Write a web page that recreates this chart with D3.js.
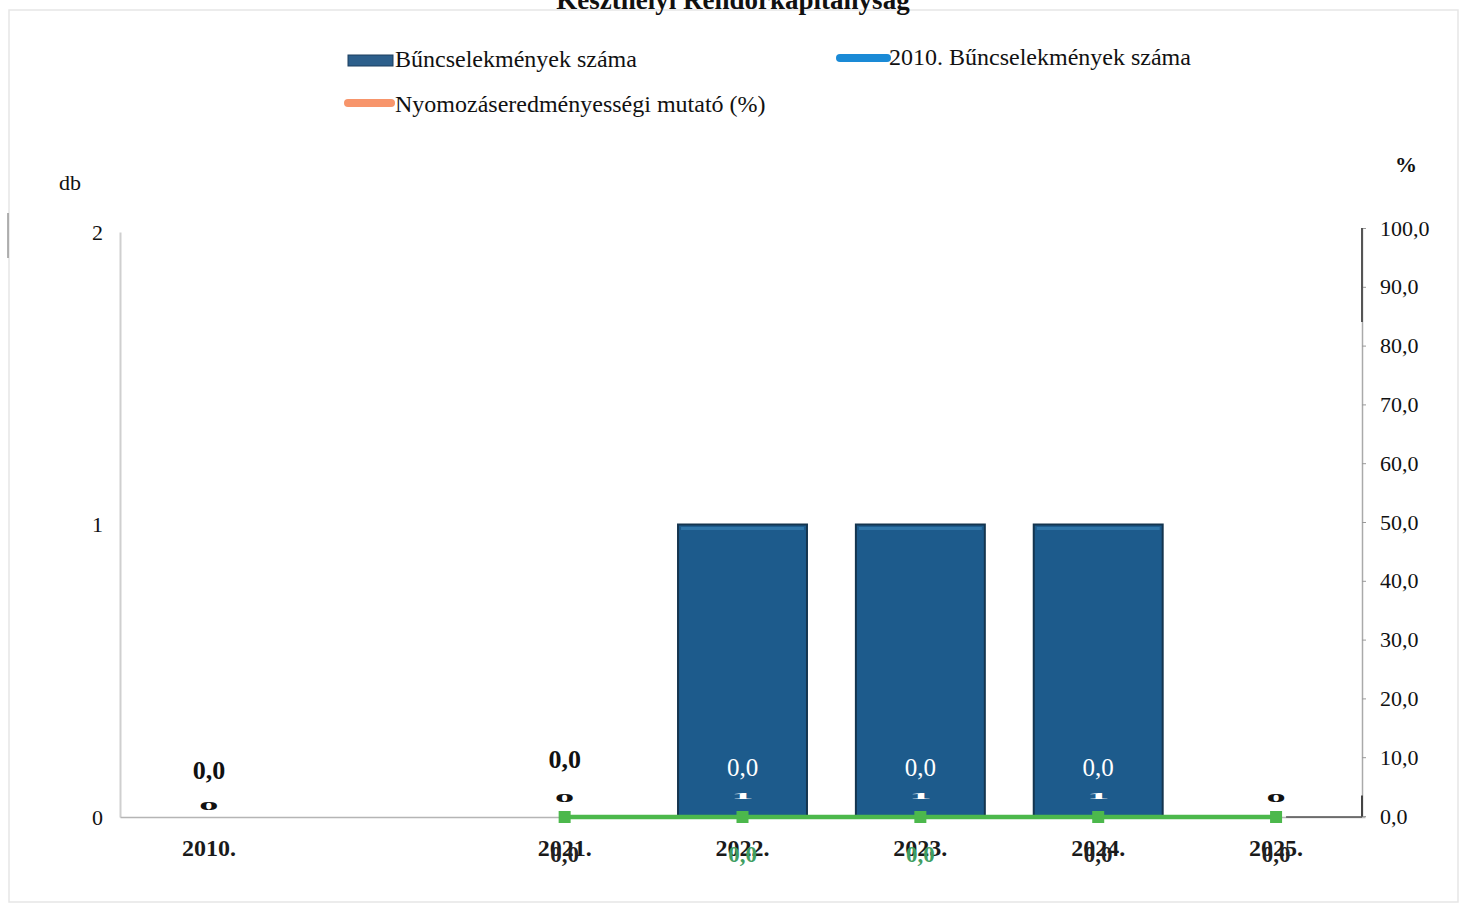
<!DOCTYPE html>
<html>
<head>
<meta charset="utf-8">
<script src="https://cdn.jsdelivr.net/npm/d3@7"></script>
<style>
  html, body { margin: 0; padding: 0; background: #fff; }
  svg { display: block; }
  text { font-family: "Liberation Serif", "Times New Roman", serif; }
</style>
</head>
<body>
<svg id="chart" width="1466" height="905"></svg>
<script>
// ---- data ----
const title = "Keszthelyi Rendőrkapitányság";
const categories = ["2010.", "", "2021.", "2022.", "2023.", "2024.", "2025."];
const barValues = [0, null, 0, 1, 1, 1, 0];                 // Bűncselekmények száma (db)
const percentValues = [0, null, 0, 0, 0, 0, null];          // Nyomozáseredményességi mutató (%)
const trendValues = [null, null, 0, 0, 0, 0, 0];            // green line (db)
const ref2010Values = [null, null, 0, null, null, 0, 0];    // 2010. Bűncselekmények száma (db)
const leftTicks = [0, 1, 2];
const rightTicks = [0, 10, 20, 30, 40, 50, 60, 70, 80, 90, 100];
const legendItems = ["Bűncselekmények száma", "2010. Bűncselekmények száma", "Nyomozáseredményességi mutató (%)"];
const fmt = v => d3.format(".1f")(v).replace(".", ",");

// ---- setup ----
const svg = d3.select("#chart");
const x = d3.scaleBand().domain(categories.map((c, i) => i)).range([120, 1365]).paddingInner(0).paddingOuter(0);
const cx = i => x(i) + x.bandwidth() / 2;
const barW = x.bandwidth() * 0.725;
const yL = d3.scaleLinear().domain([0, 2]).range([817, 232]);
const yR = d3.scaleLinear().domain([0, 100]).range([816, 228]);

// frame
svg.append("rect").attr("x", 9).attr("y", 10).attr("width", 1449).attr("height", 892)
  .attr("fill", "none").attr("stroke", "#e6e6e6").attr("stroke-width", 1.5);
svg.append("line").attr("x1", 8).attr("x2", 8).attr("y1", 213).attr("y2", 258)
  .attr("stroke", "#999").attr("stroke-width", 1.5);

// title (cut off at top in the reference)
svg.append("text").attr("x", 733).attr("y", 9).attr("text-anchor", "middle")
  .attr("font-size", 27).attr("font-weight", "bold").attr("fill", "#111").text(title);

// legend
const lg = svg.append("g");
lg.append("rect").attr("x", 348).attr("y", 55).attr("width", 45).attr("height", 11)
  .attr("fill", "#2d5f8b").attr("stroke", "#1c3f5f").attr("stroke-width", 1);
lg.append("text").attr("x", 395).attr("y", 67).attr("font-size", 24).attr("fill", "#111").text(legendItems[0]);
lg.append("line").attr("x1", 840).attr("x2", 887).attr("y1", 58).attr("y2", 58)
  .attr("stroke", "#1a8ad6").attr("stroke-width", 8).attr("stroke-linecap", "round");
lg.append("text").attr("x", 889).attr("y", 65).attr("font-size", 24).attr("fill", "#111").text(legendItems[1]);
lg.append("line").attr("x1", 348).attr("x2", 391).attr("y1", 103).attr("y2", 103)
  .attr("stroke", "#f7956b").attr("stroke-width", 8).attr("stroke-linecap", "round");
lg.append("text").attr("x", 395).attr("y", 112).attr("font-size", 24).attr("fill", "#111").text(legendItems[2]);

// axis titles
svg.append("text").attr("x", 70).attr("y", 190).attr("text-anchor", "middle").attr("font-size", 22).attr("fill", "#111").text("db");
svg.append("text").attr("x", 1406).attr("y", 172).attr("text-anchor", "middle").attr("font-size", 22).attr("font-weight", "bold").attr("fill", "#111").text("%");

// left axis
const leftAxis = svg.append("g").attr("transform", "translate(120,0)")
  .call(d3.axisLeft(yL).tickValues(leftTicks).tickSize(0).tickPadding(17).tickFormat(d3.format("d")));
leftAxis.select(".domain").attr("stroke", "#cfcfcf").attr("stroke-width", 2);
leftAxis.selectAll("text").attr("font-size", 22).attr("fill", "#111")
  .attr("font-family", "Liberation Serif, serif");

// right axis
const rightAxis = svg.append("g").attr("transform", "translate(1362,0)")
  .call(d3.axisRight(yR).tickValues(rightTicks).tickSize(4).tickSizeOuter(0).tickPadding(14).tickFormat(fmt));
rightAxis.select(".domain").attr("stroke", "#aaa").attr("stroke-width", 1.5);
rightAxis.selectAll(".tick line").attr("stroke", "#999");
rightAxis.selectAll("text").attr("font-size", 22).attr("fill", "#111")
  .attr("font-family", "Liberation Serif, serif");
svg.append("line").attr("x1", 1362).attr("x2", 1362).attr("y1", yR(100)).attr("y2", yR(84))
  .attr("stroke", "#555").attr("stroke-width", 2);
svg.append("line").attr("x1", 1362).attr("x2", 1362).attr("y1", yR(3.5)).attr("y2", yL(0))
  .attr("stroke", "#444").attr("stroke-width", 2);

// x axis
const xAxis = svg.append("g").attr("transform", `translate(0,${yL(0)})`)
  .call(d3.axisBottom(x).tickSize(0).tickPadding(22).tickFormat(i => categories[i]));
xAxis.select(".domain").attr("stroke", "#b5b5b5").attr("stroke-width", 1.5);
xAxis.selectAll("text").attr("font-size", 24).attr("font-weight", "bold").attr("fill", "#1a1a1a")
  .attr("font-family", "Liberation Serif, serif");
svg.append("line").attr("x1", cx(6) + 10).attr("x2", 1362).attr("y1", yL(0)).attr("y2", yL(0))
  .attr("stroke", "#555").attr("stroke-width", 1.5);

// bars
const barData = barValues.map((v, i) => ({ v, i })).filter(d => d.v !== null);
svg.append("g").selectAll("rect").data(barData.filter(d => d.v > 0)).join("rect")
  .attr("x", d => cx(d.i) - barW / 2).attr("width", barW)
  .attr("y", d => yL(d.v)).attr("height", d => yL(0) - yL(d.v))
  .attr("fill", "#1d5b8c").attr("stroke", "#14354f").attr("stroke-width", 2);
svg.append("g").selectAll("line").data(barData.filter(d => d.v > 0)).join("line")
  .attr("x1", d => cx(d.i) - barW / 2 + 3).attr("x2", d => cx(d.i) + barW / 2 - 3)
  .attr("y1", d => yL(d.v) + 4).attr("y2", d => yL(d.v) + 4)
  .attr("stroke", "#2f75a8").attr("stroke-width", 3);

// squashed bar value labels
svg.append("g").selectAll("text").data(barData).join("text")
  .attr("transform", d => `translate(${cx(d.i)},${d.v > 0 ? 799 : (d.i === 0 ? 810 : 802)}) scale(${d.v > 0 ? 1.9 : 1.6},${d.v > 0 ? 0.3 : 0.5})`)
  .attr("text-anchor", "middle").attr("font-size", 24).attr("font-weight", "bold")
  .attr("fill", d => d.v > 0 ? "#fff" : "#111").text(d => d.v);

// percent series (line at 0, labels above)
const pData = percentValues.map((v, i) => ({ v, i })).filter(d => d.v !== null);
svg.append("path").datum(percentValues.map((v, i) => ({ v, i })))
  .attr("fill", "none").attr("stroke", "#f7956b").attr("stroke-width", 3)
  .attr("d", d3.line().defined(d => d.v !== null).x(d => cx(d.i)).y(d => yR(d.v) + 1));
svg.append("g").selectAll("text").data(pData).join("text")
  .attr("x", d => cx(d.i)).attr("y", d => barValues[d.i] > 0 ? 776 : (d.i === 0 ? 779 : 768))
  .attr("text-anchor", "middle").attr("font-size", d => barValues[d.i] > 0 ? 25 : 26)
  .attr("font-weight", d => barValues[d.i] > 0 ? "normal" : "bold")
  .attr("fill", d => barValues[d.i] > 0 ? "#fff" : "#111").text(d => fmt(d.v));

// green trend line
const tData = trendValues.map((v, i) => ({ v, i }));
svg.append("path").datum(tData)
  .attr("fill", "none").attr("stroke", "#4cb84c").attr("stroke-width", 4.5)
  .attr("d", d3.line().defined(d => d.v !== null).x(d => cx(d.i)).y(d => yL(d.v)));
svg.append("g").selectAll("rect").data(tData.filter(d => d.v !== null)).join("rect")
  .attr("x", d => cx(d.i) - 6).attr("y", d => yL(d.v) - 6).attr("width", 12).attr("height", 12)
  .attr("fill", "#4cb84c");

// 2010 reference series labels (dark)
const rData = ref2010Values.map((v, i) => ({ v, i })).filter(d => d.v !== null);
svg.append("g").selectAll("text").data(rData).join("text")
  .attr("x", d => cx(d.i)).attr("y", 862).attr("text-anchor", "middle")
  .attr("font-size", 23).attr("font-weight", "bold").attr("fill", "#222").text(d => fmt(d.v));

// green labels below
svg.append("g").selectAll("text").data(tData.filter(d => d.v !== null && ref2010Values[d.i] === null)).join("text")
  .attr("x", d => cx(d.i)).attr("y", 862).attr("text-anchor", "middle")
  .attr("font-size", 23).attr("font-weight", "bold").attr("fill", "#3f9e62").text(d => fmt(d.v));
</script>
</body>
</html>
